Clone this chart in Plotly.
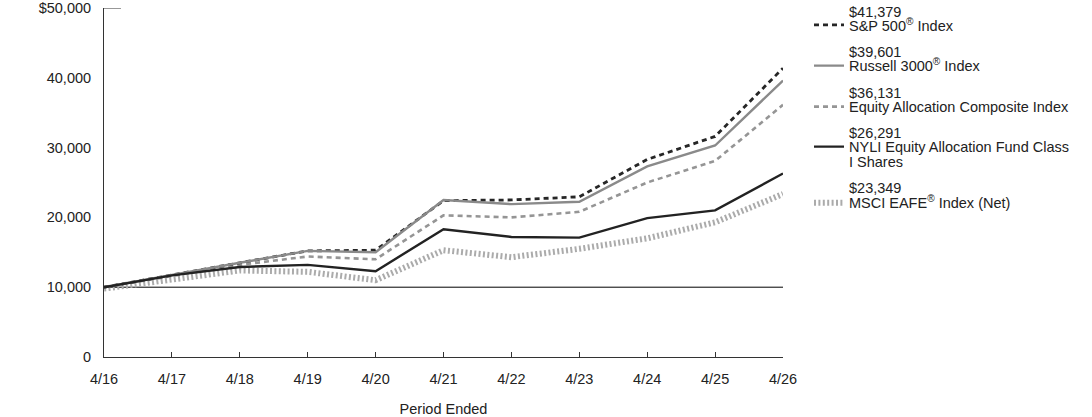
import plotly.graph_objects as go

periods = ["4/16", "4/17", "4/18", "4/19", "4/20", "4/21", "4/22", "4/23", "4/24", "4/25", "4/26"]

sp500 = [10000, 11800, 13500, 15200, 15300, 22400, 22500, 22950, 28300, 31600, 41379]
russell3000 = [10000, 11800, 13500, 15200, 15000, 22500, 21900, 22250, 27300, 30300, 39601]
composite = [10000, 11600, 13200, 14400, 14000, 20300, 20000, 20800, 25000, 28100, 36131]
fund = [10000, 11700, 12900, 13200, 12300, 18300, 17200, 17100, 19900, 21000, 26291]
eafe = [9800, 11200, 12400, 12200, 11000, 15300, 14300, 15500, 17000, 19300, 23349]

series_names = ["S&P 500<sup>®</sup> Index", "Russell 3000<sup>®</sup> Index",
                "Equity Allocation Composite Index", "NYLI Equity Allocation Fund Class",
                "MSCI EAFE<sup>®</sup> Index (Net)"]
ending_values = ["$41,379", "$39,601", "$36,131", "$26,291", "$23,349"]
fund_name_cont = "I Shares"

yticks = [0, 10000, 20000, 30000, 40000, 50000]
yticklabels = ["0", "10,000", "20,000", "30,000", "40,000", "$50,000"]

x = list(range(len(periods)))

# pixel geometry helpers (plot area: x 104..783, y 8..357)
PL, PR, PT, PB = 104, 783, 8, 357
def px_x(p):
    return (p - PL) / (PR - PL)
def px_y(p):
    return (PB - p) / (PB - PT)

fig = go.Figure()
fig.add_trace(go.Scatter(x=x, y=eafe, mode="lines", name=series_names[4], legend="legend5",
                         line=dict(color="#ababab", width=6, dash="2px,2.4px")))
fig.add_trace(go.Scatter(x=x, y=composite, mode="lines", name=series_names[2], legend="legend3",
                         line=dict(color="#959595", width=2.6, dash="5px,4px")))
fig.add_trace(go.Scatter(x=x, y=sp500, mode="lines", name=series_names[0], legend="legend",
                         line=dict(color="#262626", width=2.8, dash="5px,4px")))
fig.add_trace(go.Scatter(x=x, y=russell3000, mode="lines", name=series_names[1], legend="legend2",
                         line=dict(color="#8a8a8a", width=2.4)))
fig.add_trace(go.Scatter(x=x, y=fund, mode="lines", name=series_names[3], legend="legend4",
                         line=dict(color="#222222", width=2.4)))

# 10,000 reference line
fig.add_hline(y=10000, line=dict(color="#000000", width=1), layer="below")
# short top tick
fig.add_shape(type="line", xref="x", yref="y", x0=0, x1=0.25, y0=50000, y1=50000,
              line=dict(color="#333333", width=1))

FS = 14.5
font = dict(family="Liberation Sans, Arial, sans-serif", size=FS, color="#222222")
lfont = dict(family="Liberation Sans, Arial, sans-serif", size=14.5, color="#222222")

name_centers = [25, 65.7, 106.7, 146.7, 202.7]
value_centers = [11.7, 51.7, 92.7, 133.3, 188.3]
TEXT_X = 849

def leg(ypx):
    return dict(x=px_x(TEXT_X - 40), xanchor="left", y=px_y(ypx), yanchor="middle",
                font=lfont, valign="middle", bgcolor="rgba(0,0,0,0)", borderwidth=0,
                itemwidth=30, tracegroupgap=0)

for v, yc in zip(ending_values, value_centers):
    fig.add_annotation(x=px_x(TEXT_X - 2), y=px_y(yc), xref="paper", yref="paper", text=v,
                       showarrow=False, xanchor="left", yanchor="middle", font=lfont)
fig.add_annotation(x=px_x(TEXT_X - 2), y=px_y(162.3), xref="paper", yref="paper",
                   text=fund_name_cont, showarrow=False, xanchor="left", yanchor="middle",
                   font=lfont)

fig.update_layout(
    width=1092, height=417,
    margin=dict(l=PL, r=1092 - PR, t=PT, b=417 - PB),
    plot_bgcolor="white", paper_bgcolor="white",
    font=font,
    showlegend=True,
    hovermode=False,
    legend=leg(name_centers[0]),
    legend2=leg(name_centers[1]),
    legend3=leg(name_centers[2]),
    legend4=leg(name_centers[3]),
    legend5=leg(name_centers[4]),
    xaxis=dict(range=[0, 10], tickvals=x, ticktext=periods, showgrid=False, zeroline=False,
               showline=True, linecolor="#333333", linewidth=1, ticks="inside", ticklen=5,
               tickcolor="#333333", ticklabelstandoff=9, automargin=False,
               ticklabeloverflow="allow",
               title=dict(text="Period Ended", font=font, standoff=19),
               tickfont=font),
    yaxis=dict(range=[0, 50000], tickvals=yticks, ticktext=yticklabels, showgrid=False,
               zeroline=False, showline=True, linecolor="#333333", linewidth=1, ticks="",
               ticklabelstandoff=9, tickfont=font, automargin=False,
               ticklabeloverflow="allow"),
)

fig.write_html("out.html")
